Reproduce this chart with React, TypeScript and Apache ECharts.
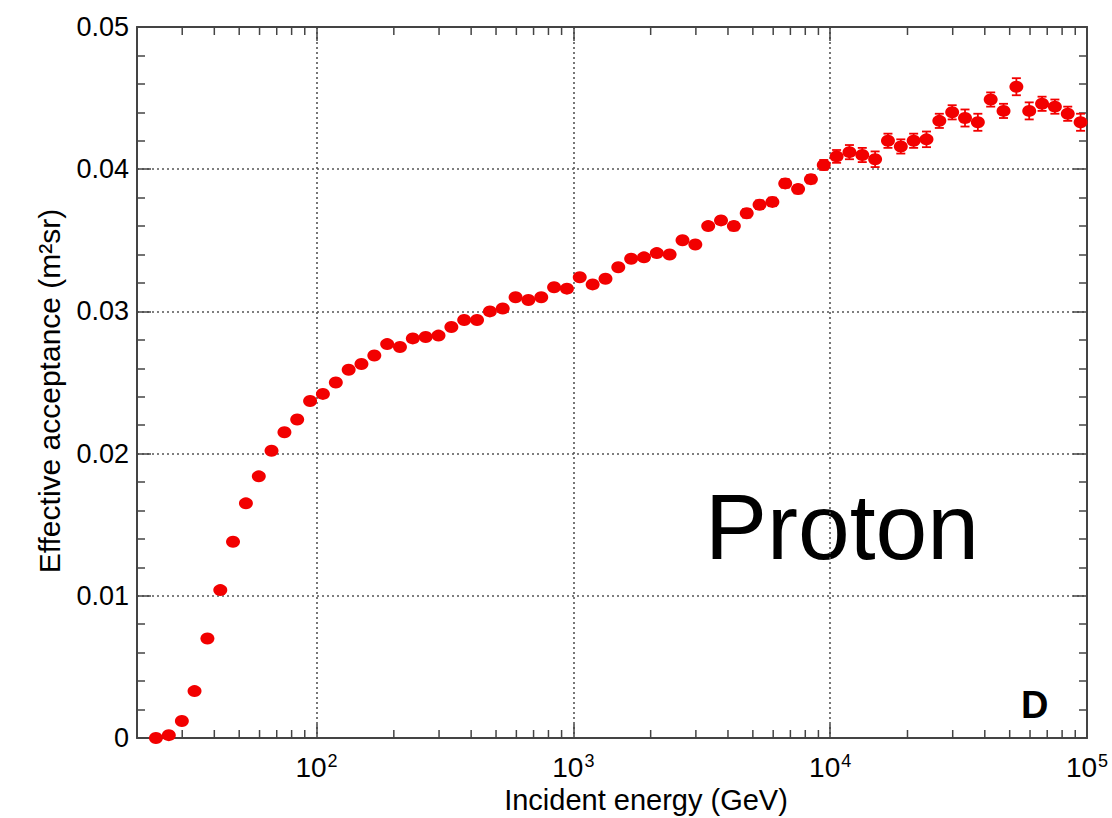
import React, { useEffect, useRef } from "react";
import * as echarts from "echarts";

// Bin-centre energies (GeV), 20 log bins per decade
const energies = [
  23.7, 26.6, 29.9, 33.5, 37.6, 42.2, 47.3, 53.1, 59.6, 66.8, 75.0, 84.1, 94.4,
  105.9, 118.9, 133.4, 149.6, 167.9, 188.4, 211.3, 237.1, 266.1, 298.5, 335.0, 375.8, 421.7, 473.2, 530.9, 595.7, 668.3, 749.9, 841.4, 944.1,
  1059, 1189, 1334, 1496, 1679, 1884, 2113, 2371, 2661, 2985, 3350, 3758, 4217, 4732, 5309, 5957, 6683, 7499, 8414, 9441,
  10593, 11885, 13335, 14962, 16788, 18836, 21135, 23714, 26607, 29854, 33497, 37584, 42170, 47315, 53088, 59566, 66834, 74989, 84140, 94406,
];

// Effective acceptance (m^2 sr)
const acceptance = [
  0.0000, 0.0002, 0.0012, 0.0033, 0.0070, 0.0104, 0.0138, 0.0165, 0.0184, 0.0202, 0.0215, 0.0224, 0.0237,
  0.0242, 0.0250, 0.0259, 0.0263, 0.0269, 0.0277, 0.0275, 0.0281, 0.0282, 0.0283, 0.0289, 0.0294, 0.0294, 0.0300, 0.0302, 0.0310, 0.0308, 0.0310, 0.0317, 0.0316,
  0.0324, 0.0319, 0.0323, 0.0331, 0.0337, 0.0338, 0.0341, 0.0340, 0.0350, 0.0347, 0.0360, 0.0364, 0.0360, 0.0369, 0.0375, 0.0377, 0.0390, 0.0386, 0.0393,
  0.0403, 0.0409, 0.0412, 0.0410, 0.0407, 0.0420, 0.0416, 0.0420, 0.0421, 0.0434, 0.0440, 0.0436, 0.0433, 0.0449, 0.0441, 0.0458, 0.0441, 0.0446, 0.0444, 0.0439, 0.0433,
];

// Statistical uncertainty of each bin
const errors = [
  0.0001, 0.0001, 0.0001, 0.0001, 0.0001, 0.0001, 0.0001, 0.0001, 0.0001, 0.0001, 0.0001, 0.0001, 0.0001,
  0.00012, 0.00012, 0.00012, 0.00012, 0.00012, 0.00012, 0.00012, 0.00012, 0.00012, 0.00012, 0.00015, 0.00015, 0.00015, 0.00015, 0.00015, 0.00015, 0.00015, 0.00015, 0.00015, 0.00015,
  0.00015, 0.00015, 0.00015, 0.0002, 0.0002, 0.0002, 0.0002, 0.0002, 0.0002, 0.0002, 0.00025, 0.00025, 0.0003, 0.0003, 0.0003, 0.0003, 0.0003, 0.0003, 0.0003,
  0.00035, 0.00045, 0.0005, 0.0005, 0.00055, 0.0005, 0.0005, 0.0005, 0.00055, 0.0005, 0.0005, 0.0006, 0.0006, 0.0005, 0.0005, 0.0006, 0.0006, 0.0005, 0.0005, 0.0005, 0.0006,
];

// Axis ranges and ticks
const xMin = 20;
const xMax = 100000;
const yMin = 0;
const yMax = 0.05;
const yStep = 0.01;
const minorMultipliers = [2, 3, 4, 5, 6, 7, 8, 9];
const minorDecades = [10, 100, 1000, 10000];

const minorTickValues: number[] = [];
minorDecades.forEach((d) =>
  minorMultipliers.forEach((m) => {
    const v = m * d;
    if (v > xMin && v < xMax) minorTickValues.push(v);
  })
);

const AXIS_COLOR = "#444";
const FONT = "'Liberation Sans', Arial, Helvetica, sans-serif";
const RED = "#f20000";

export default function App() {
  const ref = useRef<HTMLDivElement>(null);

  useEffect(() => {
    if (!ref.current) return;
    const chart = echarts.init(ref.current, undefined, { renderer: "svg" });

    const gridLine = {
      show: true,
      lineStyle: { color: "#555", width: 1.6, type: [2, 3] as any },
    };

    const xAxisBase = {
      type: "log" as const,
      logBase: 10,
      min: xMin,
      max: xMax,
      axisLine: { show: true, onZero: false, lineStyle: { color: AXIS_COLOR, width: 2 } },
      axisTick: { show: true, inside: true, length: 14, lineStyle: { color: AXIS_COLOR, width: 1.5 } },
    };

    const yAxisBase = {
      type: "value" as const,
      min: yMin,
      max: yMax,
      interval: yStep,
      axisLine: { show: true, onZero: false, lineStyle: { color: AXIS_COLOR, width: 2 } },
      axisTick: { show: true, inside: true, length: 14, lineStyle: { color: AXIS_COLOR, width: 1.5 } },
      minorTick: { show: true, splitNumber: 5, length: 8, lineStyle: { color: AXIS_COLOR, width: 1.5 } },
    };

    chart.setOption({
      animation: false,
      textStyle: { fontFamily: FONT },
      grid: { left: 137, right: 25, top: 27, bottom: 80, show: false },
      xAxis: [
        {
          ...xAxisBase,
          position: "bottom",
          splitLine: gridLine,
          axisLabel: {
            show: true,
            margin: 14,
            color: "#000",
            formatter: (v: number) => {
              const e = Math.log10(v);
              if (Math.abs(e - Math.round(e)) > 1e-6) return "";
              return `{b|10}{s|${Math.round(e)}}`;
            },
            rich: {
              b: { fontSize: 28, fontFamily: FONT, color: "#000", lineHeight: 30 },
              s: { fontSize: 18, fontFamily: FONT, color: "#000", verticalAlign: "top", lineHeight: 30, padding: [0, 0, 12, 1] },
            },
          },
        },
        {
          ...xAxisBase,
          position: "top",
          splitLine: { show: false },
          axisLabel: { show: false },
        },
      ],
      yAxis: [
        {
          ...yAxisBase,
          position: "left",
          splitLine: gridLine,
          axisLabel: {
            show: true,
            margin: 8,
            color: "#000",
            fontSize: 27,
            fontFamily: FONT,
            formatter: (v: number) => (v === 0 ? "0" : v.toFixed(2)),
          },
        },
        {
          ...yAxisBase,
          position: "right",
          splitLine: { show: false },
          axisLabel: { show: false },
        },
      ],
      graphic: [
        {
          type: "text",
          x: 646,
          y: 800,
          style: {
            text: "Incident energy (GeV)",
            font: `29px ${FONT}`,
            fill: "#000",
            align: "center",
            verticalAlign: "middle",
          },
        },
        {
          type: "text",
          x: 49,
          y: 391,
          rotation: Math.PI / 2,
          style: {
            text: "Effective acceptance (m²sr)",
            font: `30px ${FONT}`,
            fill: "#000",
            align: "center",
            verticalAlign: "middle",
          },
        },
        {
          type: "text",
          x: 705,
          y: 527,
          style: {
            text: "Proton",
            font: `93px ${FONT}`,
            fill: "#000",
            align: "left",
            verticalAlign: "middle",
          },
        },
        {
          type: "text",
          x: 1021,
          y: 705,
          style: {
            text: "D",
            font: `bold 38px ${FONT}`,
            fill: "#000",
            align: "left",
            verticalAlign: "middle",
          },
        },
      ],
      series: [
        {
          // minor logarithmic ticks on bottom and top x axes
          type: "custom",
          xAxisIndex: 0,
          yAxisIndex: 0,
          silent: true,
          data: minorTickValues.map((v) => [v, yMin]),
          renderItem: (_params: any, api: any) => {
            const v = api.value(0);
            const b = api.coord([v, yMin]);
            const t = api.coord([v, yMax]);
            const style = { stroke: AXIS_COLOR, lineWidth: 1.5 };
            return {
              type: "group",
              children: [
                { type: "line", shape: { x1: b[0], y1: b[1], x2: b[0], y2: b[1] - 8 }, style },
                { type: "line", shape: { x1: t[0], y1: t[1], x2: t[0], y2: t[1] + 8 }, style },
              ],
            };
          },
          z: 3,
        },
        {
          // vertical error bars with caps
          type: "custom",
          xAxisIndex: 0,
          yAxisIndex: 0,
          silent: true,
          data: energies.map((e, i) => [e, acceptance[i], errors[i]]),
          encode: { x: 0, y: 1 },
          renderItem: (_params: any, api: any) => {
            const x = api.value(0);
            const y = api.value(1);
            const err = api.value(2);
            const hi = api.coord([x, y + err]);
            const lo = api.coord([x, y - err]);
            const w = 4.5;
            const style = { stroke: RED, lineWidth: 1.8 };
            return {
              type: "group",
              children: [
                { type: "line", shape: { x1: hi[0], y1: hi[1], x2: lo[0], y2: lo[1] }, style },
                { type: "line", shape: { x1: hi[0] - w, y1: hi[1], x2: hi[0] + w, y2: hi[1] }, style },
                { type: "line", shape: { x1: lo[0] - w, y1: lo[1], x2: lo[0] + w, y2: lo[1] }, style },
              ],
            };
          },
          z: 4,
        },
        {
          type: "scatter",
          xAxisIndex: 0,
          yAxisIndex: 0,
          data: energies.map((e, i) => [e, acceptance[i]]),
          symbol: "circle",
          symbolSize: [14, 12],
          itemStyle: { color: RED, opacity: 1 },
          z: 5,
        },
      ],
    });

    return () => chart.dispose();
  }, []);

  return (
    <div
      ref={ref}
      style={{ position: "absolute", left: 0, top: 0, width: 1112, height: 818, background: "#fff" }}
    />
  );
}
